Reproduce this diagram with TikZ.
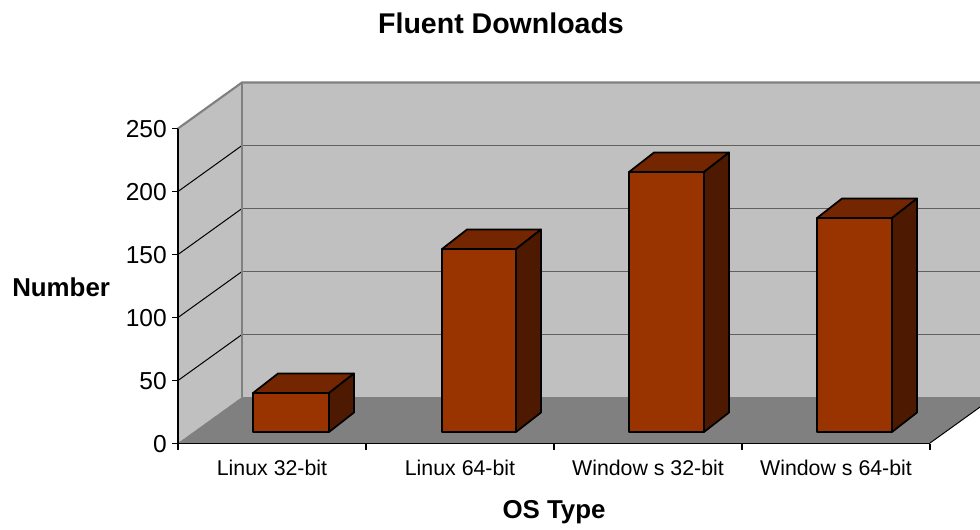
\documentclass[tikz,border=0pt]{standalone}
\usepackage{fontspec}
\setmainfont{Liberation Sans}
\usepackage{tikz}

\definecolor{wallgray}{RGB}{192,192,192}
\definecolor{floorgray}{RGB}{128,128,128}
\definecolor{gridgray}{RGB}{96,96,96}
\definecolor{barfront}{RGB}{153,51,0}
\definecolor{bartop}{RGB}{115,38,0}
\definecolor{barside}{RGB}{77,25,0}

\begin{document}
\begin{tikzpicture}[x=0.75pt,y=0.75pt,yscale=-1,xscale=1,
    wallline/.style={draw=floorgray,line width=1.6pt},
    gridline/.style={draw=gridgray,line width=1.4pt},
    barline/.style={draw=black,line width=1.3pt,line join=round},
    axisline/.style={draw=black,line width=0.9pt},
    valtext/.style={anchor=east,inner sep=0pt,font=\fontsize{18.4}{22}\selectfont},
    cattext/.style={anchor=base,inner sep=0pt,font=\fontsize{16}{19}\selectfont},
    titletext/.style={inner sep=0pt,font=\fontsize{19.4}{23}\selectfont\bfseries}]
    %set diagram to 980 x 529 and cut the back wall at the right border
    \clip (0,0) rectangle (980,529);
    \path[use as bounding box] (0,0) rectangle (980,529);

    %Shape: Back Wall
    \fill[wallgray] (242,82) -- (994,82) -- (994,397) -- (242,397) -- cycle ;
    %Shape: Left Wall
    \fill[wallgray] (178,443) -- (178,128) -- (242,82) -- (242,397) -- cycle ;
    %Shape: Floor
    \fill[floorgray] (178,443) -- (930,443) -- (994,397) -- (242,397) -- cycle ;

    %Straight Lines: back wall grid
    \draw[gridline] (242,145.5) -- (994,145.5) ;
    \draw[gridline] (242,208.5) -- (994,208.5) ;
    \draw[gridline] (242,271.5) -- (994,271.5) ;
    \draw[gridline] (242,334.5) -- (994,334.5) ;
    %Straight Lines: left wall grid
    \draw[line width=0.75pt] (178,191.5) -- (242,145.5) ;
    \draw[line width=0.75pt] (178,254.5) -- (242,208.5) ;
    \draw[line width=0.75pt] (178,317.5) -- (242,271.5) ;
    \draw[line width=0.75pt] (178,380.5) -- (242,334.5) ;
    %Straight Lines: wall edges
    \draw[wallline] (178,128.5) -- (242,82.5) -- (994,82.5) ;
    \draw[wallline] (242,82.5) -- (242,397) ;
    %Straight Lines: floor edge
    \draw[line width=0.75pt] (930,443) -- (994,397) ;

    %Straight Lines: value axis and ticks
    \draw[axisline] (178,128.5) -- (178,443.5) ;
    \draw[axisline] (172,128.5) -- (178,128.5) ;
    \draw[axisline] (172,191.5) -- (178,191.5) ;
    \draw[axisline] (172,254.5) -- (178,254.5) ;
    \draw[axisline] (172,317.5) -- (178,317.5) ;
    \draw[axisline] (172,380.5) -- (178,380.5) ;
    \draw[axisline] (172,443.5) -- (178,443.5) ;
    %Straight Lines: category axis and ticks
    \draw[axisline] (178,443.5) -- (930,443.5) ;
    \draw[axisline] (178,443.5) -- (178,450) ;
    \draw[axisline] (366,443.5) -- (366,450) ;
    \draw[axisline] (554,443.5) -- (554,450) ;
    \draw[axisline] (742,443.5) -- (742,450) ;
    \draw[axisline] (930,443.5) -- (930,450) ;

    %Shape: Bar Linux 32-bit
    \draw[barline,fill=barfront] (253,432) rectangle (329,393) ;
    \draw[barline,fill=bartop] (253,393) -- (278,373.5) -- (354,373.5) -- (329,393) -- cycle ;
    \draw[barline,fill=barside] (329,432) -- (329,393) -- (354,373.5) -- (354,412.5) -- cycle ;
    %Shape: Bar Linux 64-bit
    \draw[barline,fill=barfront] (442,432) rectangle (516,249) ;
    \draw[barline,fill=bartop] (442,249) -- (467,229.5) -- (541,229.5) -- (516,249) -- cycle ;
    \draw[barline,fill=barside] (516,432) -- (516,249) -- (541,229.5) -- (541,412.5) -- cycle ;
    %Shape: Bar Windows 32-bit
    \draw[barline,fill=barfront] (629,432) rectangle (704,172) ;
    \draw[barline,fill=bartop] (629,172) -- (654,152.5) -- (729,152.5) -- (704,172) -- cycle ;
    \draw[barline,fill=barside] (704,432) -- (704,172) -- (729,152.5) -- (729,412.5) -- cycle ;
    %Shape: Bar Windows 64-bit
    \draw[barline,fill=barfront] (817,432) rectangle (892,218) ;
    \draw[barline,fill=bartop] (817,218) -- (842,198.5) -- (917,198.5) -- (892,218) -- cycle ;
    \draw[barline,fill=barside] (892,432) -- (892,218) -- (917,198.5) -- (917,412.5) -- cycle ;

    % Text Node
    \node[titletext,anchor=base,font=\fontsize{21.4}{25}\selectfont\bfseries] (title) at (501,33) {Fluent Downloads};
    % Text Node
    \node[titletext,anchor=west] (ylabel) at (12,287) {Number};
    % Text Node
    \node[titletext,anchor=base] (xlabel) at (554,518) {OS Type};
    % Text Node
    \node[valtext] (v250) at (167,129) {250};
    \node[valtext] (v200) at (167,192) {200};
    \node[valtext] (v150) at (167,255) {150};
    \node[valtext] (v100) at (167,318) {100};
    \node[valtext] (v50) at (167,381) {50};
    \node[valtext] (v0) at (167,444) {0};
    % Text Node
    \node[cattext] (lin32) at (272,475) {Linux 32-bit};
    \node[cattext] (lin64) at (460,475) {Linux 64-bit};
    \node[cattext] (win32) at (648,475) {Window s 32-bit};
    \node[cattext] (win64) at (836,475) {Window s 64-bit};

\end{tikzpicture}
\end{document}
